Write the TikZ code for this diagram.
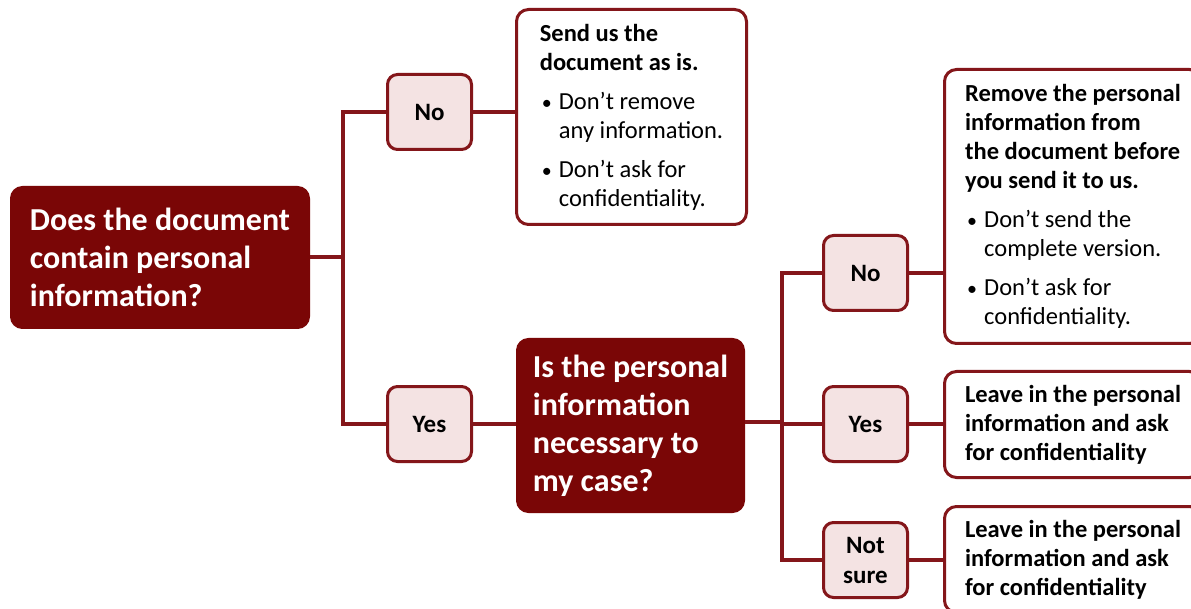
\documentclass[tikz,border=0pt]{standalone}
\usepackage{fontspec}
\setmainfont{Carlito}
\definecolor{maroon}{HTML}{7A0606}
\definecolor{edge}{HTML}{84161A}
\definecolor{pale}{HTML}{F4E3E3}
\newcommand{\qfont}{\fontsize{32}{38}\selectfont\bfseries}
\newcommand{\bfont}{\fontsize{24.5}{29}\selectfont}
\newcommand{\lfont}{\fontsize{25}{30}\selectfont\bfseries}
\newcommand{\bul}{\makebox[19pt][l]{\hspace*{2pt}{\fontsize{20}{29}\selectfont\textbullet}}}
\newcommand{\ind}{\hspace*{19pt}}
\begin{document}
\begin{tikzpicture}[x=1pt,y=-1pt,
  question/.style={fill=maroon,draw=maroon,line width=1pt,rounded corners=12pt,text=white,align=left,inner sep=0pt,anchor=north west,font=\qfont},
  answer/.style={fill=pale,draw=edge,line width=3pt,rounded corners=10pt,align=center,inner sep=0pt,anchor=north west,font=\lfont,minimum width=84pt,minimum height=75pt},
  result/.style={fill=white,draw=edge,line width=3pt,rounded corners=12pt,align=left,inner sep=0pt,anchor=north west,font=\bfont},
  conn/.style={draw=edge,line width=3.2pt}]
\useasboundingbox (0,0) rectangle (1191,609);
\clip (0,0) rectangle (1191,609);
\fill[white] (0,0) rectangle (1191,609);
% questions
\node[question,minimum width=299pt,minimum height=142pt] (q1) at (10,186)
  {Does the document\\contain personal\\information?};
\node[question,minimum width=228pt,minimum height=174pt] (q2) at (516,338)
  {Is the personal\\information\\necessary to\\my case?};
% answers
\node[answer] (no1) at (386,73) {No};
\node[answer] (yes1) at (386,385) {Yes};
\node[answer] (no2) at (822,234) {No};
\node[answer] (yes2) at (822,385) {Yes};
\node[answer] (ns) at (822,521) {Not\\sure};
% results
\node[result,minimum width=230pt,minimum height=215pt] (send) at (515,8)
  {{\bfseries Send us the}\\{\bfseries document as is.}\\[10pt]
   \bul Don’t remove\\\ind any information.\\[10pt]
   \bul Don’t ask for\\\ind confidentiality.};
\node[result,minimum width=257pt,minimum height=274pt] (rem) at (943,68)
  {{\bfseries Remove the personal}\\{\bfseries information from}\\{\bfseries the document before}\\{\bfseries you send it to us.}\\[10pt]
   \bul Don’t send the\\\ind complete version.\\[10pt]
   \bul Don’t ask for\\\ind confidentiality.};
\node[result,minimum width=257pt,minimum height=106pt,font=\bfont\bfseries] (leave1) at (943,370)
  {Leave in the personal\\information and ask\\for confidentiality};
\node[result,minimum width=257pt,minimum height=106pt,font=\bfont\bfseries] (leave2) at (943,505)
  {Leave in the personal\\information and ask\\for confidentiality};
% junctions
\coordinate (j1) at (343,257);
\coordinate (j2) at (782,422);
% connectors
\draw[conn] (q1.east |- j1) -- (j1);
\draw[conn] (no1.west) -| (j1) |- (yes1.west);
\draw[conn] (no1.east) -- (no1.east -| send.west);
\draw[conn] (yes1.east) -- (yes1.east -| q2.west);
\draw[conn] (j2 -| q2.east) -- (j2);
\draw[conn] (no2.west) -| (j2) |- (ns.west);
\draw[conn] (yes2.west) -- (yes2.west -| j2);
\draw[conn] (no2.east) -- (no2.east -| rem.west);
\draw[conn] (yes2.east) -- (yes2.east -| leave1.west);
\draw[conn] (ns.east) -- (ns.east -| leave2.west);
\end{tikzpicture}
\end{document}
